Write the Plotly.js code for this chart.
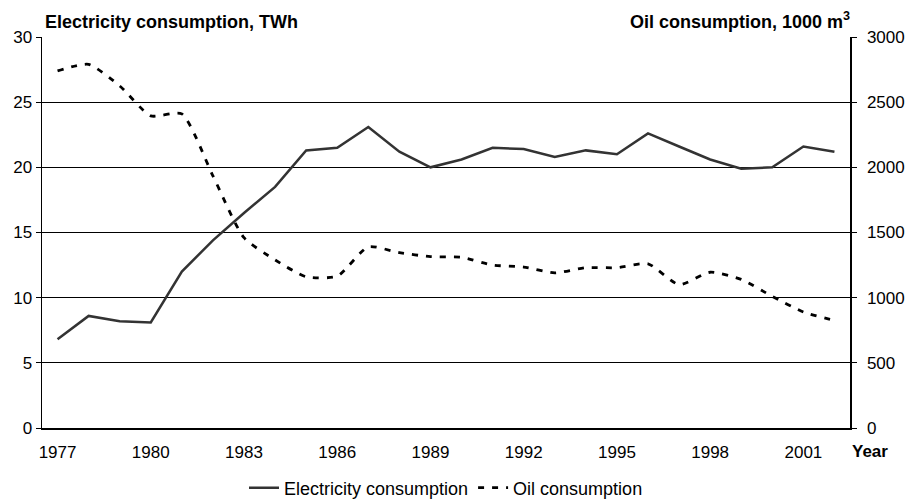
<!DOCTYPE html>
<html>
<head>
<meta charset="utf-8">
<script src="https://cdn.plot.ly/plotly-3.0.1.min.js"></script>
<style>
html,body{margin:0;padding:0;background:#fff;}
#chart{width:905px;height:501px;}
</style>
</head>
<body>
<div id="chart"></div>
<script>
var years = [1977,1978,1979,1980,1981,1982,1983,1984,1985,1986,1987,1988,1989,1990,1991,1992,1993,1994,1995,1996,1997,1998,1999,2000,2001,2002];
var electricity = [6.8,8.6,8.2,8.1,12.0,14.4,16.5,18.5,21.3,21.5,23.1,21.2,20.0,20.6,21.5,21.4,20.8,21.3,21.0,22.6,21.6,20.6,19.9,20.0,21.6,21.2];
var oil = [2740,2790,2625,2395,2410,1935,1460,1290,1160,1165,1390,1345,1315,1310,1250,1235,1190,1230,1230,1260,1100,1195,1140,1010,890,825];
var xTicks = [1977,1980,1983,1986,1989,1992,1995,1998,2001];
var names = ['Electricity consumption','Oil consumption'];

var font = 'Liberation Sans, Arial, Helvetica, sans-serif';

var traces = [
  {x: years, y: electricity, name: names[0], type: 'scatter', mode: 'lines',
   line: {color: '#333333', width: 2.5}, yaxis: 'y'},
  {x: years, y: oil, name: names[1], type: 'scatter', mode: 'lines',
   line: {color: '#000000', width: 2.8, dash: '6px,8px', shape: 'spline', smoothing: 0.6}, yaxis: 'y2'}
];

var layout = {
  width: 905, height: 501,
  margin: {l: 42, r: 55, t: 37, b: 73},
  paper_bgcolor: '#ffffff', plot_bgcolor: '#ffffff',
  font: {family: font, size: 17, color: '#000'},
  showlegend: true,
  legend: {orientation: 'h', x: 0.5, xanchor: 'center', y: 0.026, yref: 'container', yanchor: 'middle',
           font: {size: 18, family: font}, bgcolor: 'rgba(0,0,0,0)'},
  xaxis: {range: [1976.5, 2002.5], tickvals: xTicks, ticktext: xTicks.map(String),
          showline: true, linecolor: '#000', linewidth: 1.5, showgrid: false, zeroline: false,
          ticks: 'outside', ticklen: 6, tickcolor: 'rgba(0,0,0,0)', tickfont: {size: 17},
          ticklabelstandoff: 2},
  yaxis: {range: [0, 30], dtick: 5, showline: true, linecolor: '#000', linewidth: 1.5,
          showgrid: true, gridcolor: '#000', gridwidth: 1, zeroline: false,
          ticks: 'outside', ticklen: 5, tickcolor: '#000', tickfont: {size: 17}},
  yaxis2: {range: [0, 3000], dtick: 500, overlaying: 'y', side: 'right', showline: true,
           linecolor: '#000', linewidth: 1.5, showgrid: false, zeroline: false,
           ticks: 'outside', ticklen: 5, tickcolor: '#000', tickfont: {size: 17},
           ticklabelstandoff: 7},
  annotations: [
    {text: '<b>Electricity consumption, TWh</b>', xref: 'paper', yref: 'paper', x: 0, y: 1,
     xanchor: 'left', yanchor: 'bottom', xshift: 1, yshift: 3, showarrow: false,
     font: {size: 18, family: font}},
    {text: '<b>Oil consumption, 1000 m<sup>3</sup></b>', xref: 'paper', yref: 'paper', x: 1, y: 1,
     xanchor: 'right', yanchor: 'bottom', xshift: 2, yshift: 3, showarrow: false,
     font: {size: 18, family: font}},
    {text: '<b>Year</b>', xref: 'paper', yref: 'paper', x: 1, y: 0,
     xanchor: 'left', yanchor: 'top', xshift: 0, yshift: -12, showarrow: false,
     font: {size: 17, family: font}}
  ]
};

Plotly.newPlot('chart', traces, layout, {displayModeBar: false, staticPlot: true});
</script>
</body>
</html>
